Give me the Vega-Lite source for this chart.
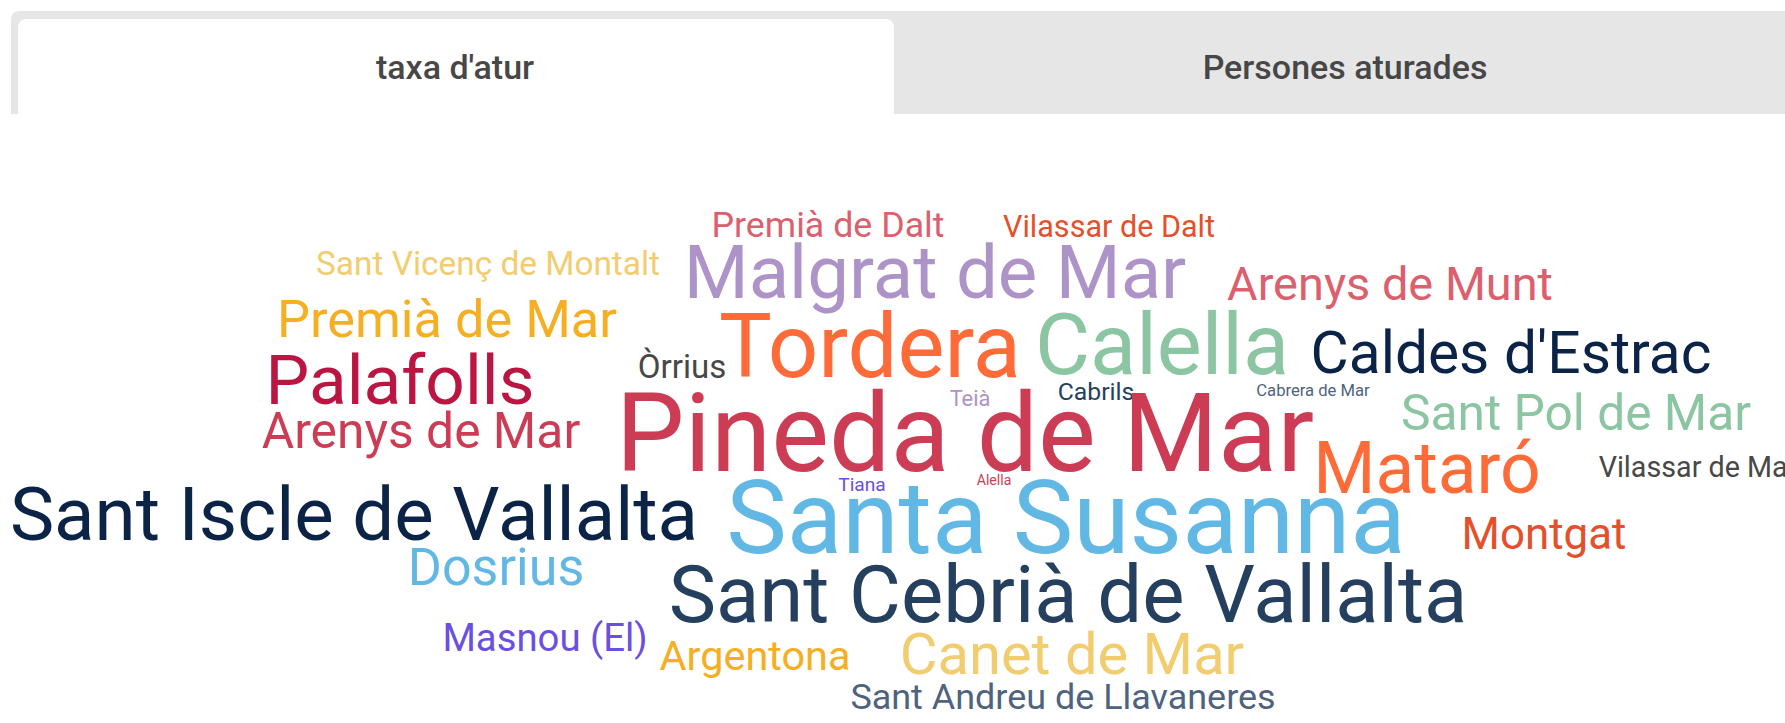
{
  "$schema": "https://vega.github.io/schema/vega-lite/v6.json",
  "width": 1785,
  "height": 723,
  "autosize": {"type": "fit", "contains": "padding"},
  "padding": 0,
  "background": "#ffffff",
  "config": {"view": {"stroke": null}},
  "datasets": {
    "tabs": [
      {"tab": "frame", "x1": 11, "x2": 1785, "y1": 11, "y2": 114},
      {"tab": "active", "x1": 18, "x2": 894, "y1": 19, "y2": 130}
    ],
    "labels": [
      {"label": "taxa d'atur", "cx": 455, "by": 79},
      {"label": "Persones aturades", "cx": 1345, "by": 79}
    ],
    "words": [
      {"name": "Premià de Dalt", "taxa": 7.22, "px": 828, "py": 237},
      {"name": "Vilassar de Dalt", "taxa": 6.69, "px": 1109, "py": 237},
      {"name": "Sant Vicenç de Montalt", "taxa": 6.98, "px": 488, "py": 275},
      {"name": "Malgrat de Mar", "taxa": 11.16, "px": 935, "py": 298},
      {"name": "Arenys de Munt", "taxa": 8.36, "px": 1390, "py": 300},
      {"name": "Premià de Mar", "taxa": 8.91, "px": 447, "py": 337},
      {"name": "Tordera", "taxa": 12.62, "px": 870, "py": 377},
      {"name": "Calella", "taxa": 12.22, "px": 1162, "py": 374},
      {"name": "Caldes d'Estrac", "taxa": 9.56, "px": 1511, "py": 373},
      {"name": "Òrrius", "taxa": 6.95, "px": 682, "py": 378},
      {"name": "Palafolls", "taxa": 10.65, "px": 400, "py": 404},
      {"name": "Teià", "taxa": 5.8, "px": 970, "py": 406},
      {"name": "Cabrils", "taxa": 6.1, "px": 1096, "py": 400},
      {"name": "Cabrera de Mar", "taxa": 5.27, "px": 1313, "py": 396},
      {"name": "Pineda de Mar", "taxa": 14.69, "px": 965, "py": 471},
      {"name": "Sant Pol de Mar", "taxa": 8.64, "px": 1576, "py": 430},
      {"name": "Arenys de Mar", "taxa": 8.65, "px": 421, "py": 448},
      {"name": "Mataró", "taxa": 10.85, "px": 1427, "py": 493},
      {"name": "Vilassar de Mar", "taxa": 6.5, "px": 1698, "py": 477},
      {"name": "Tiana", "taxa": 5.53, "px": 862, "py": 491},
      {"name": "Alella", "taxa": 5.01, "px": 994, "py": 485},
      {"name": "Sant Iscle de Vallalta", "taxa": 11.17, "px": 354, "py": 540},
      {"name": "Santa Susanna", "taxa": 13.98, "px": 1066, "py": 553},
      {"name": "Montgat", "taxa": 8.05, "px": 1544, "py": 549},
      {"name": "Dosrius", "taxa": 8.88, "px": 496, "py": 585},
      {"name": "Sant Cebrià de Vallalta", "taxa": 11.7, "px": 1068, "py": 622},
      {"name": "Masnou (El)", "taxa": 7.48, "px": 545, "py": 651},
      {"name": "Argentona", "taxa": 7.8, "px": 755, "py": 670},
      {"name": "Canet de Mar", "taxa": 9.48, "px": 1072, "py": 674},
      {"name": "Sant Andreu de Llavaneres", "taxa": 7.24, "px": 1063, "py": 709}
    ]
  },
  "layer": [
    {
      "data": {"name": "tabs"},
      "transform": [{"filter": "datum.tab === 'frame'"}],
      "mark": {"type": "rect", "fill": "#e6e6e6", "cornerRadiusTopLeft": 8, "clip": true},
      "encoding": {
        "x": {"field": "x1", "type": "quantitative", "scale": {"domain": [0, 1785]}, "axis": null},
        "x2": {"field": "x2"},
        "y": {"field": "y1", "type": "quantitative", "scale": {"domain": [0, 723], "reverse": true}, "axis": null},
        "y2": {"field": "y2"}
      }
    },
    {
      "data": {"name": "tabs"},
      "transform": [{"filter": "datum.tab === 'active'"}],
      "mark": {"type": "rect", "fill": "#ffffff", "cornerRadiusTopLeft": 8, "cornerRadiusTopRight": 8, "clip": true},
      "encoding": {
        "x": {"field": "x1", "type": "quantitative", "scale": {"domain": [0, 1785]}, "axis": null},
        "x2": {"field": "x2"},
        "y": {"field": "y1", "type": "quantitative", "scale": {"domain": [0, 723], "reverse": true}, "axis": null},
        "y2": {"field": "y2"}
      }
    },
    {
      "data": {"name": "labels"},
      "mark": {"type": "text", "font": "Roboto", "fontSize": 34, "fontWeight": 500, "color": "#474747", "align": "center", "baseline": "alphabetic", "clip": true},
      "encoding": {
        "x": {"field": "cx", "type": "quantitative", "scale": {"domain": [0, 1785]}, "axis": null},
        "y": {"field": "by", "type": "quantitative", "scale": {"domain": [0, 723], "reverse": true}, "axis": null},
        "text": {"field": "label"}
      }
    },
    {
      "data": {"name": "words"},
      "mark": {"type": "text", "font": "Roboto", "align": "center", "baseline": "alphabetic", "clip": true},
      "encoding": {
        "x": {"field": "px", "type": "quantitative", "scale": {"domain": [0, 1785]}, "axis": null},
        "y": {"field": "py", "type": "quantitative", "scale": {"domain": [0, 723], "reverse": true}, "axis": null},
        "text": {"field": "name"},
        "size": {"field": "taxa", "type": "quantitative", "scale": {"domain": [5, 15], "range": [14, 112]}, "legend": null},
        "color": {
          "field": "name",
          "type": "nominal",
          "legend": null,
          "scale": {
            "domain": ["Premià de Dalt", "Vilassar de Dalt", "Sant Vicenç de Montalt", "Malgrat de Mar", "Arenys de Munt", "Premià de Mar", "Tordera", "Calella", "Caldes d'Estrac", "Òrrius", "Palafolls", "Teià", "Cabrils", "Cabrera de Mar", "Pineda de Mar", "Sant Pol de Mar", "Arenys de Mar", "Mataró", "Vilassar de Mar", "Tiana", "Alella", "Sant Iscle de Vallalta", "Santa Susanna", "Montgat", "Dosrius", "Sant Cebrià de Vallalta", "Masnou (El)", "Argentona", "Canet de Mar", "Sant Andreu de Llavaneres"],
            "range": ["#dc5f6e", "#e4502a", "#f2cd70", "#ad93c8", "#dc5f6e", "#f6ae22", "#ff6b38", "#8cc5a2", "#0b2347", "#484848", "#bb1641", "#ad93c8", "#253f5e", "#4f637f", "#cc3d55", "#8cc5a2", "#cc3d55", "#ff6b38", "#484848", "#6a4fe0", "#cc3d55", "#0b2347", "#62b8e5", "#e4502a", "#62b8e5", "#253f5e", "#6a4fe0", "#f6ae22", "#f2cd70", "#4f637f"]
          }
        }
      }
    }
  ]
}
